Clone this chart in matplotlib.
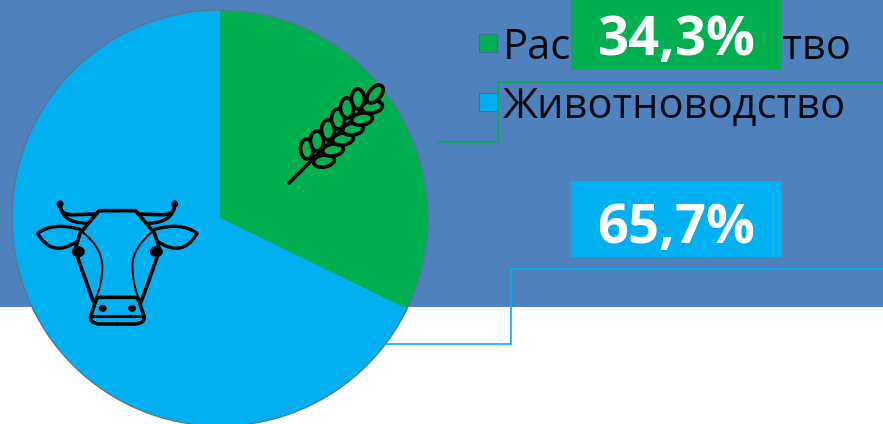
import matplotlib
matplotlib.use("Agg")
import matplotlib.pyplot as plt
from matplotlib.patches import Rectangle, Ellipse, PathPatch, Circle
from matplotlib.path import Path

categories = ["Растениеводство", "Животноводство"]
value_labels = ["34,3%", "65,7%"]
slice_shares = [32.2, 67.8]
slice_colors = ["#00B050", "#00B0F0"]
BG = "#4F81BD"
H = 424

fig = plt.figure(figsize=(8.83, 4.24), dpi=100, facecolor="white")
ax = fig.add_axes([0, 0, 1, 1])
ax.set_xlim(0, 883)
ax.set_ylim(0, H)
ax.axis("off")


def Y(y):
    return H - y


ax.add_patch(Rectangle((0, Y(307)), 883, 307, fc=BG, ec="none", zorder=0))

# legend
leg_y = [42.5, 101.5]
for name, col, y in zip(categories, slice_colors, leg_y):
    ax.add_patch(Rectangle((479, Y(y + 9)), 18, 18, fc=col, ec="#3f6f8f", lw=0.8, zorder=1))
    ax.text(503, Y(y + 16.5), name, fontsize=30, family="Open Sans", color="#0a0a14",
            va="baseline", ha="left", zorder=1)

# leader lines
ax.plot([437, 498, 498, 883], [Y(142), Y(142), Y(82), Y(82)], color=slice_colors[0], lw=1.2, zorder=2,
        solid_joinstyle="miter")
ax.plot([380, 511, 511, 883], [Y(344), Y(344), Y(269), Y(269)], color=slice_colors[1], lw=1.2, zorder=2,
        solid_joinstyle="miter")

# pie
wedges, _ = ax.pie(slice_shares, colors=slice_colors, startangle=90, counterclock=False,
                   center=(220, Y(218)), radius=208, frame=True,
                   wedgeprops=dict(edgecolor="none", zorder=3))
ax.add_patch(Circle((220, Y(218)), 208, fc="none", ec="#557a99", lw=1.0, zorder=3.5))
ax.set_xlim(0, 883)
ax.set_ylim(0, H)
ax.set_aspect("auto")
ax.axis("off")

# value boxes
boxes = [(571, 0, 70, 55), (571, 181, 76, 243)]
for (x, top, h, base), txt, col in zip(boxes, value_labels, slice_colors):
    ax.add_patch(Rectangle((x, Y(top + h)), 210, h, fc=col, ec="none", zorder=5))
    ax.text(676.5, Y(base), txt, fontsize=39.2, family="Open Sans", fontweight="bold", color="white",
            ha="center", va="baseline", zorder=6)

# wheat icon
ax.plot([289, 320], [Y(183), Y(152)], color="black", lw=2.6, solid_capstyle="round", zorder=7)
ax.plot([320, 378], [Y(152), Y(94)], color="black", lw=2.6, zorder=7)
left_grains = [(307, 149), (317, 141), (328, 130), (338, 119), (347, 108), (358, 99)]
right_grains = [(324, 161), (333, 150), (343, 139), (353, 129), (362, 119), (372, 107)]
GR = slice_colors[0]
for cx, cy in left_grains:
    ax.add_patch(Ellipse((cx, Y(cy)), 20, 13, angle=92, lw=2.6, fc=GR, ec="black", zorder=7.1))
for cx, cy in right_grains:
    ax.add_patch(Ellipse((cx, Y(cy)), 21, 12, angle=10, lw=2.6, fc=GR, ec="black", zorder=7.2))
ax.add_patch(Ellipse((375, Y(94)), 21, 12, angle=50, lw=2.6, fc=GR, ec="black", zorder=7.3))


# cow icon, in crop coordinates of the head
def P(x, y):
    return 25 + x / 3, Y(190 + y / 3)


def stroke(pts, lw=2.0, mirror=False):
    verts, codes = [], []
    for i, p in enumerate(pts):
        if len(p) == 2:
            x, y = p
            verts.append(P(554 - x if mirror else x, y))
            codes.append(Path.MOVETO if i == 0 else Path.LINETO)
        else:
            cx, cy, x, y = p
            verts.append(P(554 - cx if mirror else cx, cy))
            verts.append(P(554 - x if mirror else x, y))
            codes += [Path.CURVE3, Path.CURVE3]
    ax.add_patch(PathPatch(Path(verts, codes), fc="none", ec="black", lw=lw, zorder=7,
                           capstyle="round", joinstyle="round"))


for m in (False, True):
    mx = (lambda v: 554 - v) if m else (lambda v: v)
    stroke([(277, 62), (222, 62), (165, 130), (150, 180), (205, 335)], 2.6, m)
    stroke([(165, 118), (85, 95, 38, 130), (80, 205, 155, 155)], 2.4, m)
    stroke([(105, 42), (105, 78, 150, 74), (215, 72)], 2.6, m)
    stroke([(105, 42), (108, 98, 185, 100)], 2.4, m)
    stroke([(175, 128), (228, 170, 232, 225), (232, 285, 210, 330)], 1.4, m)
    stroke([(277, 322), (225, 322), (215, 325), (198, 375), (190, 400, 225, 402), (277, 402)], 2.6, m)
    stroke([(198, 378), (277, 378)], 2.2, m)
    ax.add_patch(Ellipse(P(mx(233), 355), 8, 7, fc="black", ec="none", zorder=7))
    ax.add_patch(Ellipse(P(mx(105), 42), 7, 7, fc="black", ec="none", zorder=7))
    ax.add_patch(Ellipse(P(mx(160), 185), 13, 11, fc="black", ec="none", zorder=7))

fig.savefig("out.png", dpi=100, facecolor="white")
